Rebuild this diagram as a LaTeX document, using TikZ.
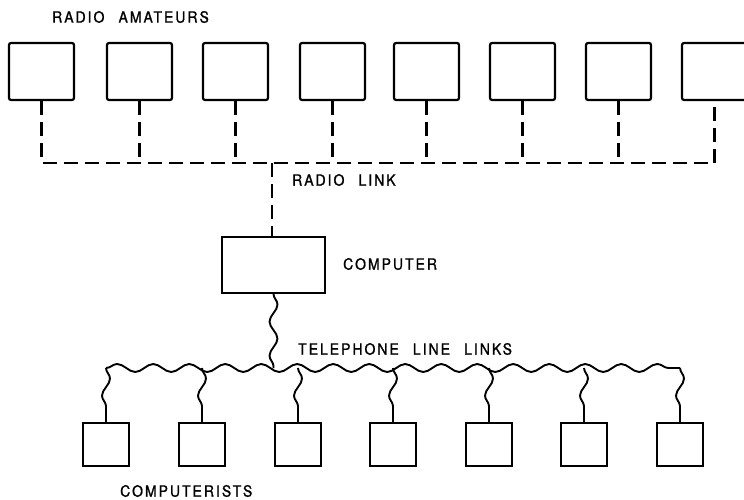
\documentclass[tikz,border=0pt]{standalone}
\usepackage{fontspec}
\newfontfamily\labfont[LetterSpace=13, FakeStretch=0.9, FakeBold=1.2, WordSpace=2.4]{TeX Gyre Heros}
\usetikzlibrary{decorations.pathmorphing}
\begin{document}
\begin{tikzpicture}[x=1pt,y=-1pt,
  abox/.style={draw, line width=2.2pt, rounded corners=2pt, minimum width=65pt, minimum height=57pt, inner sep=0pt},
  cbox/.style={draw, line width=2pt, minimum width=46pt, minimum height=43pt, inner sep=0pt},
  compbox/.style={draw, line width=2pt, minimum width=103pt, minimum height=56pt, inner sep=0pt},
  lab/.style={font=\labfont\fontsize{15.5}{18}\selectfont, anchor=west, inner sep=0pt},
  radio/.style={line width=2.2pt, dash pattern=on 14pt off 7pt},
  wavy/.style={decorate, decoration={snake, segment length=36pt, amplitude=4pt}, line width=1.9pt},
  vwavy/.style={decorate, decoration={snake, segment length=34pt, amplitude=4pt}, line width=1.9pt}]
\useasboundingbox (0,0) rectangle (744,499);
% radio amateurs
\foreach \i/\x in {1/41.5,2/139.5,3/235.5,4/332.5,5/426.5,6/522.5,7/618.5,8/714.5}
  \node[abox] (t\i) at (\x,71.5) {};
\node[lab] (ra) at (52,17) {RADIO AMATEURS};
% radio bus
\coordinate (bL) at (41.5,163);
\coordinate (bR) at (714.5,163);
\draw[radio] (t1.south) -- (bL) -- (bR) -- (t8.south);
\foreach \i in {2,...,7}
  \draw[radio] (t\i.south) -- (t\i.south |- bL);
% computer
\node[compbox] (comp) at (273.5,265) {};
\coordinate (cj) at (272,163);
\draw[radio] (cj) -- (cj |- comp.north);
\node[lab] (rl) at (292,180) {RADIO LINK};
\node[lab] (cl) at (343,264) {COMPUTER};
% computerists
\foreach \i/\x in {1/106,2/202,3/298,4/393,5/489,6/584,7/680}
  \node[cbox] (b\i) at (\x,444.5) {};
\coordinate (wL) at (106,368);
\coordinate (wR) at (680,368);
\draw[wavy] (wL) -- (wR);
\foreach \i in {1,...,7}
  \draw[vwavy] (b\i.north |- wL) -- (b\i.north);
\draw[vwavy] (comp.south) -- (comp.south |- wL);
\node[lab] (tl) at (298,349) {TELEPHONE LINE LINKS};
\node[lab] (cs) at (120,491) {COMPUTERISTS};
\end{tikzpicture}
\end{document}
